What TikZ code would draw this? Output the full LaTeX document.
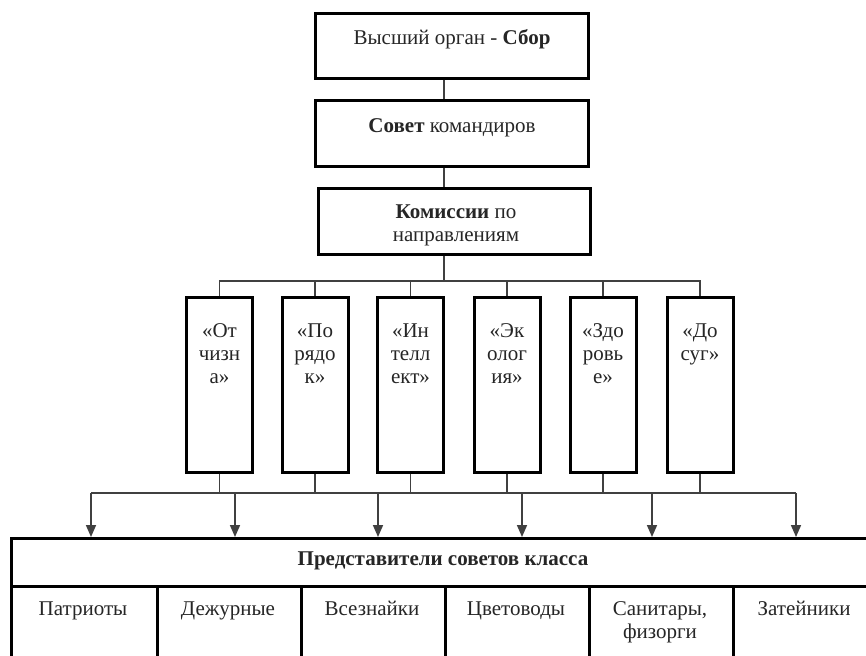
\documentclass[tikz,border=0pt]{standalone}
\usepackage{fontspec}
\setmainfont{Liberation Serif}
\usetikzlibrary{arrows.meta}
\begin{document}
\begin{tikzpicture}[x=0.5pt,y=-0.5pt,
  boxs/.style={draw=black, line width=1.5pt, inner sep=0pt, fill=white},
  txt/.style={font=\fontsize{10.5}{11.5}\selectfont, text=black!85, inner sep=0pt, align=center},
  conn/.style={draw=black!75, line width=0.8pt},
  arr/.style={conn, -{Triangle[width=5pt,length=6pt]}}]
\useasboundingbox (0,0) rectangle (866,655);
\clip (0,0) rectangle (866,655);
\fill[white] (0,0) rectangle (866,655);

% top chain
\node[boxs, minimum width=136.5pt, minimum height=32.5pt] (b1) at (451.5,45.5) {};
\node[boxs, minimum width=136.5pt, minimum height=33pt] (b2) at (451.5,133) {};
\node[boxs, minimum width=136pt, minimum height=33pt] (b3) at (454,221) {};
\node[txt, anchor=base] (t1) at (452,44) {Высший орган - \textbf{Сбор}};
\node[txt, anchor=base] (t2) at (452,132) {\textbf{Совет} командиров};
\node[txt, anchor=base] (t3) at (456,241) {\textbf{Комиссии} по\\направлениям};

\coordinate (spine) at (444,0);
\coordinate (bus) at (444,281);
\draw[conn] (b1.south -| spine) -- (b2.north -| spine);
\draw[conn] (b2.south -| spine) -- (b3.north -| spine);
\draw[conn] (b3.south -| spine) -- (bus);

% commissions (base anchor = last line baseline)
\foreach \i/\x/\y/\t in {1/219.5/383/{«От\\чизн\\а»}, 2/315/383/{«По\\рядо\\к»}, 3/410.5/383/{«Ин\\телл\\ект»},
                     4/507/383/{«Эк\\олог\\ия»}, 5/603/383/{«Здо\\ровь\\е»}, 6/700/360/{«До\\суг»}} {
  \node[boxs, minimum width=33pt, minimum height=87.5pt] (s\i) at (\x,384.5) {};
  \node[txt, anchor=base] (st\i) at (\x,\y) {\t};
  \draw[conn] (bus) -| (s\i.north);
}

% table
\node[boxs, minimum width=433pt, minimum height=24pt, anchor=north west] (hdr) at (10,537) {};
\node[boxs, minimum width=73pt, minimum height=42pt, anchor=north west] (c1) at (10,585) {};
\node[boxs, minimum width=72pt, minimum height=42pt, anchor=north west] (c2) at (156,585) {};
\node[boxs, minimum width=72pt, minimum height=42pt, anchor=north west] (c3) at (300,585) {};
\node[boxs, minimum width=72pt, minimum height=42pt, anchor=north west] (c4) at (444,585) {};
\node[boxs, minimum width=72pt, minimum height=42pt, anchor=north west] (c5) at (588,585) {};
\node[boxs, minimum width=72pt, minimum height=42pt, anchor=north west] (c6) at (732,585) {};
\node[txt, anchor=base] (ht) at (443,565) {\textbf{Представители советов класса}};
\node[txt, anchor=base] (ct1) at (83,615) {Патриоты};
\node[txt, anchor=base] (ct2) at (228,615) {Дежурные};
\node[txt, anchor=base] (ct3) at (372,615) {Всезнайки};
\node[txt, anchor=base] (ct4) at (516,615) {Цветоводы};
\node[txt, anchor=base] (ct5) at (660,638) {Санитары,\\физорги};
\node[txt, anchor=base] (ct6) at (804,615) {Затейники};

% lower bus with arrows
\coordinate (d1) at (91,493);
\coordinate (d2) at (235,493);
\coordinate (d3) at (378,493);
\coordinate (d4) at (522,493);
\coordinate (d5) at (652,493);
\coordinate (d6) at (796,493);
\draw[conn] (d1) -- (d6);
\foreach \i in {1,...,6} {
  \draw[conn] (s\i.south) -- (s\i.south |- d1);
  \draw[arr] (d\i) -- (d\i |- hdr.north);
}
\end{tikzpicture}
\end{document}
